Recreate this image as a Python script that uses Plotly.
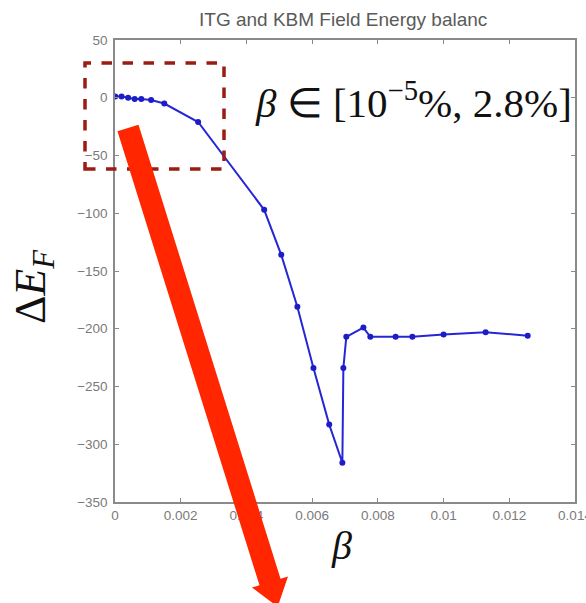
import plotly.graph_objects as go

# Data
beta = [0.00001, 0.0002, 0.0004, 0.0006, 0.0008, 0.0011, 0.0015, 0.00253,
        0.00454, 0.00506, 0.00555, 0.00604, 0.00652, 0.00692, 0.00695,
        0.00704, 0.00756, 0.00777, 0.00854, 0.00905, 0.0100, 0.01128, 0.01256]
delta_ef = [1, 1, 0, -1, -1, -2, -5, -21,
            -97, -136, -181, -234, -283, -316, -234,
            -207, -199, -207, -207, -207, -205, -203, -206]
x_ticks = [0, 0.002, 0.004, 0.006, 0.008, 0.010, 0.012, 0.014]
x_ticklabels = ["0", "0.002", "0.004", "0.006", "0.008", "0.01", "0.012", "0.014"]
y_ticks = [50, 0, -50, -100, -150, -200, -250, -300, -350]

W, H = 586, 603
L, R, T, B = 115, 11, 40, 101
PW, PH = W - L - R, H - T - B

def px(xp, yp):
    return (xp - L) / PW, (H - B - yp) / PH

fig = go.Figure()
fig.add_trace(go.Scatter(
    x=beta, y=delta_ef, mode="lines+markers",
    line=dict(color="#2626d6", width=2),
    marker=dict(color="#1c1cc8", size=6),
    showlegend=False, hoverinfo="skip"))

axis_common = dict(showgrid=False, zeroline=False, showline=True, linecolor="#8a8a8a",
                   linewidth=1.5, mirror="ticks", ticks="inside", ticklen=4,
                   tickcolor="#8a8a8a", ticklabeloverflow="allow", automargin=False,
                   tickfont=dict(family="Liberation Sans", size=13.5, color="#7a7a7a"))

fig.update_xaxes(range=[0, 0.014], tickvals=x_ticks, ticktext=x_ticklabels, **axis_common)
fig.update_yaxes(range=[-350, 50], tickvals=y_ticks, ticklabelstandoff=3, **axis_common)

# dashed highlight box
x0, y0 = px(85, 63)
x1, y1 = px(224, 169)
shapes = [dict(type="rect", xref="paper", yref="paper", x0=x0, y0=y1, x1=x1, y1=y0,
               line=dict(color="#9b1c12", width=3.5, dash="dash"), layer="above")]

# red arrow
pts = [(117.5, 131.3), (138.5, 124.7), (280.5, 578.7), (288.0, 576.4),
       (277.7, 606.8), (252.0, 587.6), (259.5, 585.3)]
path = "M " + " L ".join("%.4f,%.4f" % px(a, b) for a, b in pts) + " Z"
shapes.append(dict(type="path", xref="paper", yref="paper", path=path,
                   fillcolor="#ff2600", line=dict(width=0), layer="above"))

tx, ty = px(343, 20)
bx, by = px(413, 100)
lx, ly = px(341, 545)
yx, yy = px(33, 287)
NB = "\u00a0"
annotations = [
    dict(text="ITG and KBM Field Energy balanc", x=tx, y=ty,
         font=dict(family="Liberation Sans", size=19, color="#5a5a5a")),
    dict(text="<i>β</i>" + NB + "∈" + NB + "[10<sup>−5</sup>%," + NB + "2.8%]", x=bx, y=by,
         font=dict(family="Liberation Serif", size=41, color="#111111")),
    dict(text="<i>β</i>", x=lx, y=ly,
         font=dict(family="Liberation Serif", size=40, color="#111111")),
    dict(text="Δ<i>E</i><sub><i>F</i></sub>", x=yx, y=yy, textangle=-90,
         font=dict(family="Liberation Serif", size=44, color="#111111")),
]
for a in annotations:
    a.update(xref="paper", yref="paper", xanchor="center", yanchor="middle", showarrow=False)

fig.update_layout(width=W, height=H, margin=dict(l=L, r=R, t=T, b=B, autoexpand=False),
                  plot_bgcolor="white", paper_bgcolor="white",
                  shapes=shapes, annotations=annotations)

fig.write_html("out.html")
